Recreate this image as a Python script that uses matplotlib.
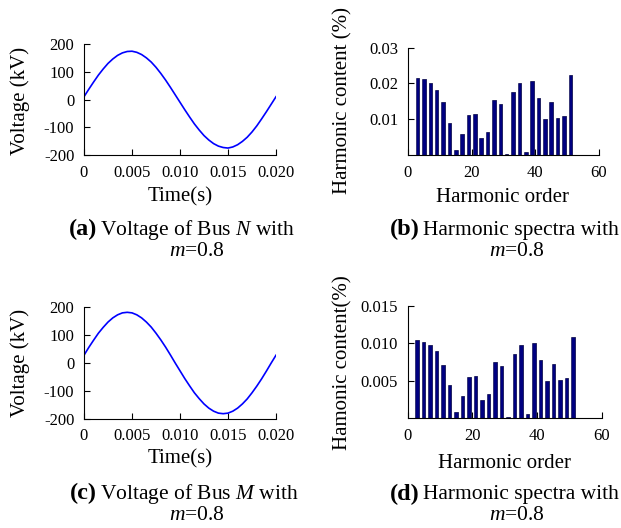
import matplotlib
matplotlib.use('Agg')
import matplotlib.pyplot as plt

plt.rcParams['font.family'] = 'Liberation Serif'
plt.rcParams['mathtext.fontset'] = 'custom'
plt.rcParams['mathtext.rm'] = 'Liberation Serif'
plt.rcParams['mathtext.it'] = 'Liberation Serif:italic'
plt.rcParams['axes.unicode_minus'] = False

# time axis (s), 0.0005 s steps
t = [i * 0.0005 for i in range(41)]

# voltage of bus N (kV)
v_n = [10, 37, 63, 88, 110, 130, 146, 159, 168, 173, 174, 170, 162, 150, 135, 116, 94, 70, 44, 17,
       -10, -37, -63, -88, -110, -130, -146, -159, -168, -173, -175, -171, -163, -151, -136, -117, -95, -70, -44, -17, 10]

# voltage of bus M (kV)
v_m = [28, 56, 82, 107, 128, 147, 162, 173, 180, 182, 180, 173, 162, 147, 129, 107, 83, 57, 29, 0,
       -28, -56, -82, -107, -128, -147, -162, -173, -180, -182, -180, -173, -162, -147, -129, -107, -83, -57, -29, 0, 28]

# harmonic orders and contents (%)
orders = list(range(3, 52, 2))
h_n = [0.0214, 0.0212, 0.0202, 0.0183, 0.0147, 0.0090, 0.0016, 0.0060, 0.0112, 0.0115, 0.0048, 0.0065, 0.0153,
       0.0143, 0.0003, 0.0176, 0.0201, 0.0009, 0.0207, 0.0160, 0.0101, 0.0148, 0.0105, 0.0109, 0.0223]
h_m = [0.0104, 0.0102, 0.0098, 0.0089, 0.0071, 0.0044, 0.0008, 0.0030, 0.0055, 0.0056, 0.0024, 0.0032, 0.0075,
       0.0069, 0.0002, 0.0086, 0.0098, 0.0005, 0.0100, 0.0077, 0.0049, 0.0072, 0.0051, 0.0053, 0.0108]

W, H = 621, 528
fig = plt.figure(figsize=(W / 100, H / 100), dpi=100)


def box(x0, x1, y0, y1):
    # pixel box (top-left origin) -> figure fraction rect
    return [x0 / W, 1 - y1 / H, (x1 - x0) / W, (y1 - y0) / H]


def fx(x):
    return x / W


def fy(y):
    return 1 - y / H


def style(ax):
    ax.spines['top'].set_visible(False)
    ax.spines['right'].set_visible(False)
    ax.tick_params(direction='in', length=4, width=0.8, labelsize=12, pad=7)


def wave_panel(rect, volts):
    ax = fig.add_axes(rect)
    ax.plot(t, volts, color='#0000ff', lw=1.2)
    ax.set_xlim(0, 0.02)
    ax.set_ylim(-200, 200)
    ax.set_xticks([0, 0.005, 0.01, 0.015, 0.02])
    ax.set_xticklabels(['0', '0.005', '0.010', '0.015', '0.020'])
    ax.set_yticks([-200, -100, 0, 100, 200])
    style(ax)
    return ax


def spec_panel(rect, vals, ymax, yticks, ylabels):
    ax = fig.add_axes(rect)
    # light grey shadow on the right of each bar, as in the original
    ax.bar([o + 0.3 for o in orders], vals, width=1.1, color='#b0b0b0', linewidth=0)
    ax.bar(orders, vals, width=1.1, color='#000080', edgecolor='#000040', linewidth=0.4)
    ax.set_xlim(0, 60)
    ax.set_ylim(0, ymax)
    ax.set_xticks([0, 20, 40, 60])
    ax.set_yticks(yticks)
    ax.set_yticklabels(ylabels)
    style(ax)
    return ax


wave_panel(box(84, 276, 44, 155), v_n)
spec_panel(box(408, 599, 47.5, 155.3), h_n, 0.03, [0.01, 0.02, 0.03], ['0.01', '0.02', '0.03'])
wave_panel(box(84, 276, 307.3, 418.7), v_m)
spec_panel(box(407.5, 602, 305.7, 418), h_m, 0.015, [0.005, 0.01, 0.015], ['0.005', '0.010', '0.015'])

lab = dict(fontsize=15, ha='center', va='center')
fig.text(fx(180), fy(197), 'Time(s)', **lab)
fig.text(fx(20), fy(101), 'Voltage (kV)', rotation=90, **lab)
fig.text(fx(180), fy(459), 'Time(s)', **lab)
fig.text(fx(20), fy(363), 'Voltage (kV)', rotation=90, **lab)
fig.text(fx(503), fy(198), 'Harmonic order', **lab)
fig.text(fx(343), fy(100), 'Harmonic content (%)', rotation=90, **lab)
fig.text(fx(505), fy(464), 'Harmonic order', **lab)
fig.text(fx(343), fy(363), 'Hamonic content(%)', rotation=90, **lab)

# sub-figure captions
caps = [('(a)', 'Voltage of Bus $N$ with', 100, 230, 197, 251),
        ('(b)', 'Harmonic spectra with', 423, 230, 517, 251),
        ('(c)', 'Voltage of Bus $M$ with', 100, 494, 197, 515),
        ('(d)', 'Harmonic spectra with', 423, 495, 517, 516)]
for tag, text, xs, y1, x2, y2 in caps:
    fig.text(fx(xs - 3), fy(y1 - 1), tag, fontsize=17.5, fontweight='bold', ha='right', va='center')
    fig.text(fx(xs), fy(y1), text, fontsize=15.5, ha='left', va='center')
    fig.text(fx(x2), fy(y2), '$m$=0.8', fontsize=15.5, ha='center', va='center')

fig.savefig('out.png', dpi=100)
